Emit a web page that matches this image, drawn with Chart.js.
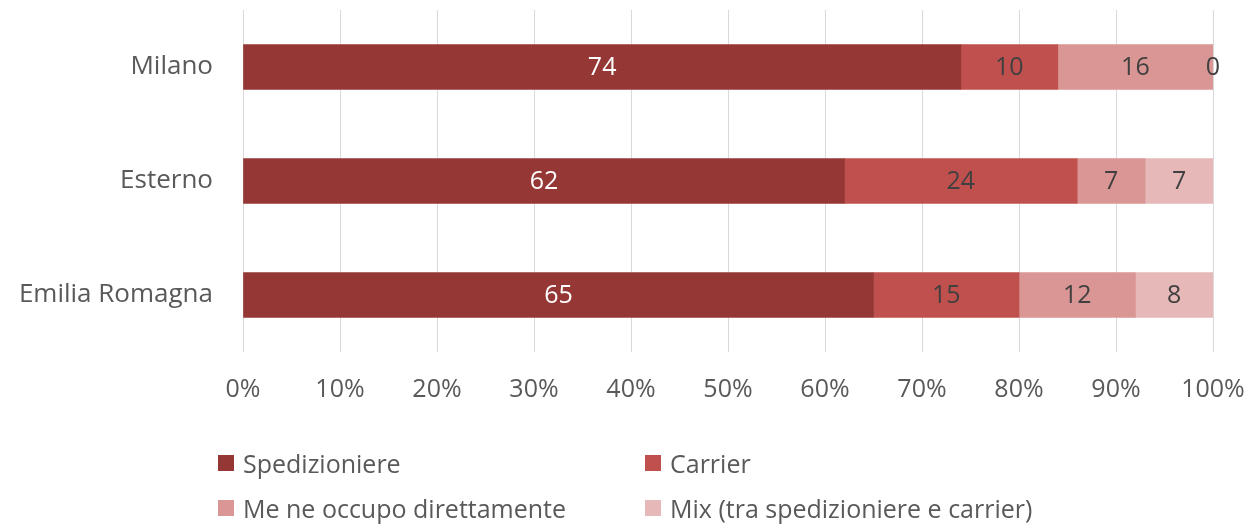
<!DOCTYPE html>
<html>
<head>
<meta charset="utf-8">
<script src="https://cdn.jsdelivr.net/npm/chart.js@4"></script>
<style>
  html, body { margin: 0; padding: 0; background: #fff; }
  #wrap { position: relative; width: 1253px; height: 524px; }
  #legend {
    position: absolute; left: 218px; top: 442px;
    display: grid; grid-template-columns: 427px 400px; row-gap: 3px;
    font-family: "Open Sans", sans-serif; font-size: 25px; color: #595959;
  }
  .item { display: flex; align-items: center; height: 42px; white-space: nowrap; }
  .box { width: 16px; height: 16px; margin-right: 9px; flex: none; }
</style>
</head>
<body>
<div id="wrap">
  <canvas id="chart" width="1253" height="524"></canvas>
  <div id="legend"></div>
</div>
<script>
// --- DATA ---
const categories = ['Milano', 'Esterno', 'Emilia Romagna'];
const seriesNames = ['Spedizioniere', 'Carrier', 'Me ne occupo direttamente', 'Mix (tra spedizioniere e carrier)'];
const spedizioniere = [74, 62, 65];
const carrier = [10, 24, 15];
const direttamente = [16, 7, 12];
const mix = [0, 7, 8];
const xTicks = [0, 10, 20, 30, 40, 50, 60, 70, 80, 90, 100];

const colors = ['#953735', '#C0504D', '#D99694', '#E6B9B8'];
const labelColors = ['#ffffff', '#404040', '#404040', '#404040'];
const FONT = '"Open Sans", sans-serif';

const seriesValues = [spedizioniere, carrier, direttamente, mix];

// draws the value in the middle of each bar segment
const valueLabels = {
    id: 'valueLabels',
    afterDatasetsDraw(chart) {
        const ctx = chart.ctx;
        ctx.save();
        ctx.font = '25px ' + FONT;
        ctx.textAlign = 'center';
        ctx.textBaseline = 'middle';
        chart.data.datasets.forEach((ds, i) => {
            const meta = chart.getDatasetMeta(i);
            meta.data.forEach((bar, j) => {
                const cx = (bar.x + bar.base) / 2;
                ctx.fillStyle = labelColors[i];
                ctx.fillText(String(ds.data[j]), cx, bar.y + 1);
            });
        });
        ctx.restore();
    }
};

const chart = new Chart(document.getElementById('chart'), {
    type: 'bar',
    data: {
        labels: categories,
        datasets: seriesNames.map((name, i) => ({
            label: name,
            data: seriesValues[i],
            backgroundColor: colors[i],
            borderWidth: 0,
            barThickness: 45
        }))
    },
    options: {
        indexAxis: 'y',
        responsive: false,
        animation: false,
        layout: { padding: { top: 10, right: 40, left: 0, bottom: 110 } },
        plugins: { legend: { display: false }, tooltip: { enabled: false } },
        scales: {
            x: {
                stacked: true,
                min: 0, max: 100,
                afterBuildTicks: s => { s.ticks = xTicks.map(v => ({ value: v })); },
                afterFit: s => {
                    s.height = 524 - 110 - 352;
                    s.paddingLeft = 0;
                    s.paddingRight = 0;
                },
                grid: { color: '#d9d9d9', lineWidth: 1, drawTicks: false },
                border: { display: false },
                ticks: {
                    padding: 23,
                    color: '#595959',
                    font: { family: FONT, size: 25 },
                    callback: v => v + '%'
                }
            },
            y: {
                stacked: true,
                afterFit: s => {
                    s.width = 243;
                    s.paddingTop = 0;
                    s.paddingBottom = 0;
                },
                grid: { display: false, drawTicks: false },
                border: { display: false },
                ticks: {
                    padding: 30,
                    color: '#595959',
                    font: { family: FONT, size: 26 }
                }
            }
        }
    },
    plugins: [valueLabels]
});

// --- LEGEND (two columns) ---
const legend = document.getElementById('legend');
seriesNames.forEach((name, i) => {
    const item = document.createElement('div');
    item.className = 'item';
    const box = document.createElement('span');
    box.className = 'box';
    box.style.background = colors[i];
    const txt = document.createElement('span');
    txt.textContent = name;
    item.appendChild(box);
    item.appendChild(txt);
    legend.appendChild(item);
});
</script>
</body>
</html>
